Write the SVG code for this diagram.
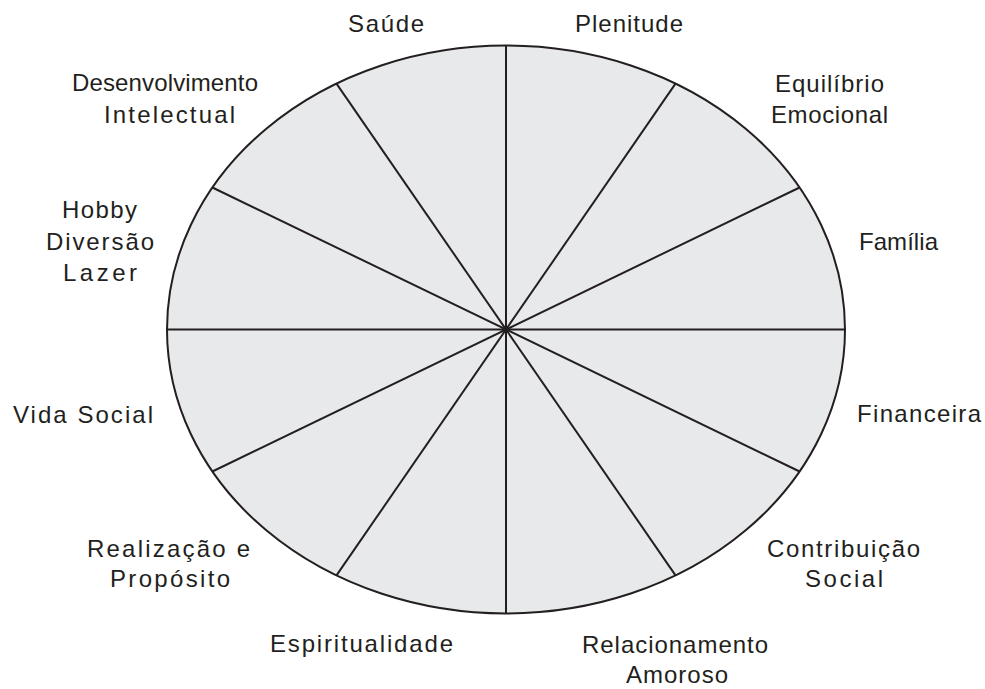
<svg xmlns="http://www.w3.org/2000/svg" width="985" height="689" viewBox="0 0 985 689">
  <style>
    .lbl { font-family: "Liberation Sans", Arial, sans-serif; font-size: 24px; fill: #231f20; text-anchor: middle; }
    .wheel { fill: #e8e9eb; stroke: #231f20; stroke-width: 2; }
    .spoke { stroke: #231f20; stroke-width: 2; fill: none; }
  </style>
  <rect width="985" height="689" fill="#ffffff"/>
  <g id="wheel">
    <ellipse class="wheel" cx="506" cy="329.5" rx="339" ry="284"/>
  </g>
  <g id="spokes">
    <line class="spoke" x1="167" y1="329.5" x2="845" y2="329.5"/>
    <line class="spoke" x1="212.4" y1="187.5" x2="799.6" y2="471.5"/>
    <line class="spoke" x1="336.5" y1="83.6" x2="675.5" y2="575.4"/>
    <line class="spoke" x1="506" y1="45.5" x2="506" y2="613.5"/>
    <line class="spoke" x1="675.5" y1="83.6" x2="336.5" y2="575.4"/>
    <line class="spoke" x1="799.6" y1="187.5" x2="212.4" y2="471.5"/>
  </g>
  <g id="saude"><text class="lbl" x="386" y="32" textLength="76" lengthAdjust="spacing">Saúde</text></g>
  <g id="plenitude"><text class="lbl" x="629" y="32" textLength="108" lengthAdjust="spacing">Plenitude</text></g>
  <g id="equilibrio-emocional">
    <text class="lbl" x="829.5" y="92" textLength="109" lengthAdjust="spacing">Equilíbrio</text>
    <text class="lbl" x="829.5" y="123" textLength="117" lengthAdjust="spacing">Emocional</text>
  </g>
  <g id="familia"><text class="lbl" x="898.5" y="250" textLength="79" lengthAdjust="spacing">Família</text></g>
  <g id="financeira"><text class="lbl" x="919" y="422" textLength="124" lengthAdjust="spacing">Financeira</text></g>
  <g id="contribuicao-social">
    <text class="lbl" x="843.5" y="557" textLength="153" lengthAdjust="spacing">Contribuição</text>
    <text class="lbl" x="844" y="587" textLength="78" lengthAdjust="spacing">Social</text>
  </g>
  <g id="relacionamento-amoroso">
    <text class="lbl" x="675" y="653" textLength="186" lengthAdjust="spacing">Relacionamento</text>
    <text class="lbl" x="677" y="683" textLength="102" lengthAdjust="spacing">Amoroso</text>
  </g>
  <g id="espiritualidade"><text class="lbl" x="361.5" y="652" textLength="183" lengthAdjust="spacing">Espiritualidade</text></g>
  <g id="realizacao-proposito">
    <text class="lbl" x="168.5" y="557" textLength="163" lengthAdjust="spacing">Realização e</text>
    <text class="lbl" x="170" y="587" textLength="120" lengthAdjust="spacing">Propósito</text>
  </g>
  <g id="vida-social"><text class="lbl" x="83" y="423" textLength="140" lengthAdjust="spacing">Vida Social</text></g>
  <g id="hobby-diversao-lazer">
    <text class="lbl" x="99.5" y="218" textLength="75" lengthAdjust="spacing">Hobby</text>
    <text class="lbl" x="100" y="250" textLength="108" lengthAdjust="spacing">Diversão</text>
    <text class="lbl" x="100" y="281" textLength="74" lengthAdjust="spacing">Lazer</text>
  </g>
  <g id="desenvolvimento-intelectual">
    <text class="lbl" x="165" y="91" textLength="186" lengthAdjust="spacing">Desenvolvimento</text>
    <text class="lbl" x="169.5" y="123" textLength="131" lengthAdjust="spacing">Intelectual</text>
  </g>
</svg>
